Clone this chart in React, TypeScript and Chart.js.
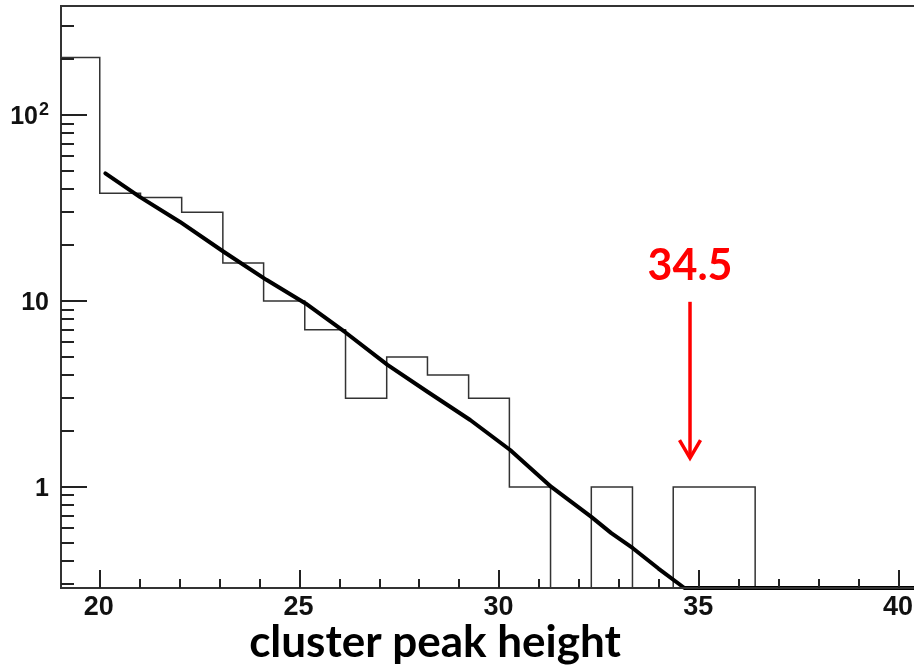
import React, { useEffect, useRef } from "react";
import { Chart, registerables } from "chart.js";

Chart.register(...registerables);

// ---- Axis ranges ----
const X_MIN = 19.03;
const X_MAX = 40.5;
const Y_MIN = 0.286;
const Y_MAX = 386;

// ---- Histogram (bin edges and counts) ----
const binEdges = [
  19.03, 20.0, 21.02, 22.05, 23.08, 24.1, 25.13, 26.15, 27.18, 28.2, 29.23,
  30.25, 31.28, 32.3, 33.33, 34.35, 35.38, 36.4, 37.43, 38.45, 39.48, 40.5,
];
const binCounts = [
  204, 38, 36, 30, 16, 10, 7, 3, 5, 4, 3, 1, 0, 1, 0, 1, 1, 0, 0, 0, 0,
];

// ---- Fit curve (0 = below the axis range, drawn on the floor) ----
const fitX = [
  20.14, 21.0, 22.0, 23.1, 24.17, 25.15, 26.15, 27.2, 28.2, 29.27, 30.27,
  31.3, 32.3, 32.8, 33.34, 33.98, 34.63, 40.5,
];
const fitY = [
  48.6, 36.3, 26.7, 18.4, 13.0, 9.7, 6.77, 4.53, 3.25, 2.29, 1.58, 1.0, 0.69,
  0.564, 0.468, 0.364, 0, 0,
];

// ---- Ticks ----
const xMajorTicks = [20, 25, 30, 35, 40];
const xTickLabels = ["20", "25", "30", "35", "40"];
const xMinorTicks = [21, 22, 23, 24, 26, 27, 28, 29, 31, 32, 33, 34, 36, 37, 38, 39];
const yMajorTicks = [1, 10, 100];
const yLabelBase = ["1", "10", "10"];
const yLabelExp = ["", "", "2"];
const yMinorTicks = [
  0.3, 0.4, 0.5, 0.6, 0.7, 0.8, 0.9, 2, 3, 4, 5, 6, 7, 8, 9, 20, 30, 40, 50,
  60, 70, 80, 90, 200, 300,
];

// ---- Texts / annotation ----
const xTitle = "cluster peak height";
const markerLabel = "34.5";
const markerX = 34.77;
const markerTopY = 9.9;
const markerTipY = 1.43;
const markerLabelY = 13;

const floorVal = (v: number) => (v > 0 ? v : Y_MIN);

const overlayPlugin = {
  id: "overlay",
  afterDraw(chart: any) {
    const { ctx, chartArea: a } = chart;
    const xs = chart.scales.x;
    const ys = chart.scales.y;
    ctx.save();

    // frame
    ctx.strokeStyle = "#333";
    ctx.lineWidth = 2;
    ctx.beginPath();
    ctx.moveTo(a.left, a.top);
    ctx.lineTo(a.right, a.top);
    ctx.lineTo(a.right, a.bottom);
    ctx.lineTo(a.left, a.bottom);
    ctx.closePath();
    ctx.stroke();

    // x ticks (inward)
    ctx.strokeStyle = "#222";
    ctx.lineWidth = 2;
    ctx.beginPath();
    xMajorTicks.forEach((v) => {
      const px = Math.round(xs.getPixelForValue(v));
      ctx.moveTo(px, a.bottom);
      ctx.lineTo(px, a.bottom - 18);
    });
    xMinorTicks.forEach((v) => {
      const px = Math.round(xs.getPixelForValue(v));
      ctx.moveTo(px, a.bottom);
      ctx.lineTo(px, a.bottom - 9);
    });
    // y ticks (inward)
    yMajorTicks.forEach((v) => {
      const py = Math.round(ys.getPixelForValue(v));
      ctx.moveTo(a.left, py);
      ctx.lineTo(a.left + 26, py);
    });
    yMinorTicks.forEach((v) => {
      const py = Math.round(ys.getPixelForValue(v));
      ctx.moveTo(a.left, py);
      ctx.lineTo(a.left + 13, py);
    });
    ctx.stroke();

    // x tick labels
    ctx.fillStyle = "#111";
    ctx.font = "bold 27px 'Liberation Sans', Arial, sans-serif";
    ctx.textAlign = "center";
    ctx.textBaseline = "alphabetic";
    xMajorTicks.forEach((v, i) => {
      const px = xs.getPixelForValue(v);
      ctx.fillText(xTickLabels[i], px - 1, a.bottom + 27);
    });

    // y tick labels
    ctx.textAlign = "right";
    yMajorTicks.forEach((v, i) => {
      const py = ys.getPixelForValue(v);
      const right = a.left - 12;
      let expW = 0;
      if (yLabelExp[i]) {
        ctx.font = "bold 18px 'Liberation Sans', Arial, sans-serif";
        expW = ctx.measureText(yLabelExp[i]).width;
        ctx.fillText(yLabelExp[i], right, py);
      }
      ctx.font = "bold 25px 'Liberation Sans', Arial, sans-serif";
      ctx.fillText(yLabelBase[i], right - (expW ? expW + 1 : 0), py + 9);
    });

    // axis title
    ctx.font = "bold 44px Lato, 'Open Sans', sans-serif";
    ctx.textAlign = "center";
    ctx.fillStyle = "#000";
    ctx.fillText(xTitle, 435, 657);

    // annotation arrow
    const ax = xs.getPixelForValue(markerX);
    const aTop = ys.getPixelForValue(markerTopY);
    const aTip = ys.getPixelForValue(markerTipY);
    ctx.strokeStyle = "#ff0000";
    ctx.fillStyle = "#ff0000";
    ctx.lineWidth = 3.5;
    ctx.lineCap = "butt";
    ctx.beginPath();
    ctx.moveTo(ax, aTop);
    ctx.lineTo(ax, aTip - 2);
    ctx.stroke();
    ctx.lineJoin = "miter";
    ctx.beginPath();
    ctx.moveTo(ax - 10.5, aTip - 18);
    ctx.lineTo(ax, aTip);
    ctx.lineTo(ax + 10.5, aTip - 18);
    ctx.stroke();

    ctx.font = "bold 43px Lato, 'Open Sans', sans-serif";
    ctx.textAlign = "center";
    ctx.fillText(markerLabel, ax, ys.getPixelForValue(markerLabelY));

    ctx.restore();
  },
};

export default function App() {
  const canvasRef = useRef<HTMLCanvasElement | null>(null);

  useEffect(() => {
    if (!canvasRef.current) return;

    const histPoints = binCounts.map((c, i) => ({ x: binEdges[i], y: floorVal(c) }));
    histPoints.push({
      x: binEdges[binEdges.length - 1],
      y: floorVal(binCounts[binCounts.length - 1]),
    });
    const fitPoints = fitX.map((x, i) => ({ x, y: floorVal(fitY[i]) }));

    const chart = new Chart(canvasRef.current, {
      type: "line",
      data: {
        datasets: [
          {
            label: "fit",
            data: fitPoints,
            borderColor: "#000",
            borderWidth: 4,
            pointRadius: 0,
            tension: 0,
            borderJoinStyle: "round",
            borderCapStyle: "round",
            fill: false,
            clip: 4,
          },
          {
            label: "histogram",
            data: histPoints,
            borderColor: "#333",
            borderWidth: 1.5,
            pointRadius: 0,
            stepped: "before",
            fill: false,
          },
        ],
      },
      options: {
        animation: false,
        responsive: false,
        maintainAspectRatio: false,
        devicePixelRatio: 1,
        layout: { padding: { left: 61, top: 6, right: 11, bottom: 82 } },
        plugins: {
          legend: { display: false },
          tooltip: { enabled: false },
        },
        scales: {
          x: { type: "linear", min: X_MIN, max: X_MAX, display: false },
          y: { type: "logarithmic", min: Y_MIN, max: Y_MAX, display: false },
        },
      },
      plugins: [overlayPlugin],
    } as any);

    return () => chart.destroy();
  }, []);

  return (
    <div
      style={{
        position: "absolute",
        left: 0,
        top: 0,
        width: 914,
        height: 670,
        overflow: "hidden",
        background: "#fff",
      }}
    >
      <canvas ref={canvasRef} width={930} height={670} style={{ display: "block" }} />
    </div>
  );
}
